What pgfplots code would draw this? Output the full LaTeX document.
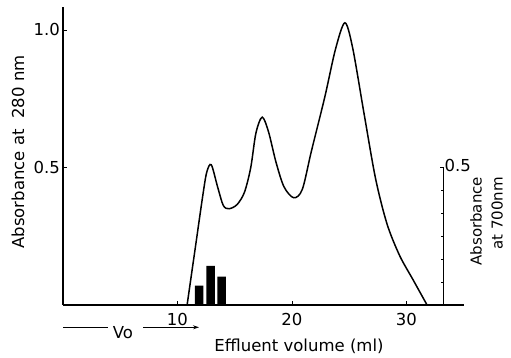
\documentclass[border=0pt]{standalone}
\usepackage{pgfplots}
\pgfplotsset{compat=1.18}
\usepackage{fontspec}
\setmainfont{DejaVu Sans}
\usetikzlibrary{arrows.meta}

\begin{document}
\begin{tikzpicture}[font=\fontsize{16.5}{19}\selectfont]
\path[use as bounding box] (-63pt,-53pt) rectangle (448pt,305pt);
\begin{axis}[
  at={(0pt,0pt)}, anchor=south west,
  scale only axis, width=400.7pt, height=298.4pt,
  xmin=0, xmax=35, ymin=0, ymax=1.085,
  axis x line*=bottom, axis y line*=left,
  axis line style={line width=1.1pt},
  xtick={10,20,30}, xticklabels={10,20,30},
  ytick={0.5,1.0}, yticklabels={0.5,1.0},
  tick align=inside, major tick length=4pt,
  tick style={line width=0.9pt, black},
  xticklabel style={anchor=base, inner sep=0pt, yshift=-21pt},
  yticklabel style={anchor=east, inner sep=0pt, xshift=-3pt},
  clip=false,
]
\addplot[black, line width=1.5pt, smooth, tension=0.5] coordinates {
(10.84,0) (11.60,0.221) (12.20,0.395) (12.55,0.482) (12.95,0.510)
(13.50,0.430) (14.00,0.362) (14.50,0.350) (15.20,0.365) (15.85,0.410)
(16.40,0.500) (16.85,0.625) (17.40,0.683) (17.95,0.630) (18.60,0.520)
(19.30,0.430) (20.15,0.390) (20.90,0.420) (21.70,0.560) (22.86,0.755)
(23.80,0.930) (24.62,1.026) (25.30,0.935) (26.30,0.695) (27.30,0.460)
(28.30,0.295) (29.40,0.180) (30.60,0.090) (31.80,0.0)
};
\addplot[ybar, bar width=8.5pt, fill=black, draw=none] coordinates {
(11.9,0.070) (12.9,0.142) (13.86,0.103)
};
\end{axis}
% right-hand axis (absorbance at 700 nm)
\draw[line width=1.1pt] (380.8pt,0pt) -- (380.8pt,137.5pt);
\draw[line width=0.9pt] (380.8pt,137.5pt) -- ++(-4pt,0);
\foreach \k in {1,...,5} \draw[line width=0.9pt] (380.8pt,{\k*22.92pt}) -- ++(-2.5pt,0);
\node[anchor=west, inner sep=0pt] at (381.5pt,140pt) {0.5};
\node[rotate=90, anchor=east, align=right, inner sep=0pt, font=\fontsize{15}{21}\selectfont] at (423.5pt,128.3pt) {Absorbance\\at 700nm};
% labels
\node[rotate=90, inner sep=0pt] at (-45pt,153pt) {Absorbance at\ \ 280 nm};
\node[anchor=base, inner sep=0pt] at (236pt,-46.7pt) {Effluent volume (ml)};
% Vo arrow
\draw[line width=0.9pt] (0pt,-22.3pt) -- (45pt,-22.3pt);
\node[anchor=base, inner sep=0pt] at (60pt,-33.3pt) {Vo};
\draw[line width=0.9pt, -{Stealth[length=6pt,width=4pt]}] (80pt,-22.3pt) -- (136pt,-22.3pt);
\end{tikzpicture}
\end{document}
